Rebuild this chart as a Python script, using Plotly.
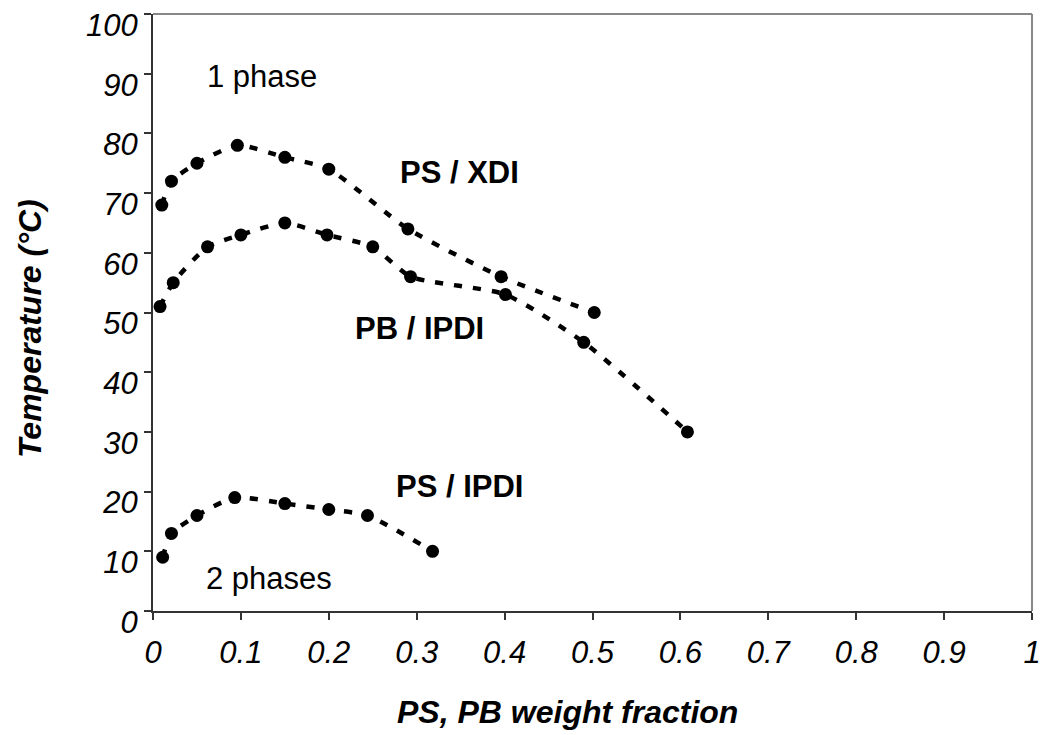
import plotly.graph_objects as go

ps_xdi_x = [0.010, 0.021, 0.050, 0.096, 0.150, 0.200, 0.290, 0.396, 0.502]
ps_xdi_y = [68, 72, 75, 78, 76, 74, 64, 56, 50]

pb_ipdi_x = [0.008, 0.023, 0.062, 0.100, 0.150, 0.198, 0.250, 0.293, 0.401, 0.490, 0.608]
pb_ipdi_y = [51, 55, 61, 63, 65, 63, 61, 56, 53, 45, 30]

ps_ipdi_x = [0.011, 0.021, 0.050, 0.093, 0.150, 0.200, 0.244, 0.318]
ps_ipdi_y = [9, 13, 16, 19, 18, 17, 16, 10]

x_ticks = [0, 0.1, 0.2, 0.3, 0.4, 0.5, 0.6, 0.7, 0.8, 0.9, 1]
x_tick_labels = ["0", "0.1", "0.2", "0.3", "0.4", "0.5", "0.6", "0.7", "0.8", "0.9", "1"]
y_ticks = [0, 10, 20, 30, 40, 50, 60, 70, 80, 90, 100]

labels = [
    ("1 phase", 0.124, 89.6, False),
    ("PS / XDI", 0.349, 73.4, True),
    ("PB / IPDI", 0.303, 47.4, True),
    ("PS / IPDI", 0.349, 20.8, True),
    ("2 phases", 0.132, 5.5, False),
]

FONT = "Liberation Sans, Arial, sans-serif"
W, H = 1051, 735
ML, MR, MT, MB = 153, 19, 14, 124

fig = go.Figure()
for xs, ys, name in [(ps_xdi_x, ps_xdi_y, "PS / XDI"),
                     (pb_ipdi_x, pb_ipdi_y, "PB / IPDI"),
                     (ps_ipdi_x, ps_ipdi_y, "PS / IPDI")]:
    fig.add_trace(go.Scatter(
        x=xs, y=ys, name=name, mode="lines+markers",
        line=dict(color="black", width=4.5, dash="8px,11px", shape="spline", smoothing=0.6),
        marker=dict(color="black", size=13, symbol="circle"),
        showlegend=False, cliponaxis=False,
    ))

for text, x, y, bold in labels:
    fig.add_annotation(
        x=x, y=y, text=f"<b>{text}</b>" if bold else text, showarrow=False,
        font=dict(family=FONT, size=31, color="black"),
        xanchor="center", yanchor="middle",
    )

pw, ph = W - ML - MR, H - MT - MB
fig.add_annotation(
    xref="paper", yref="paper", x=(567 - ML) / pw, y=(H - MB - 712) / ph,
    text="<b><i>PS, PB weight fraction</i></b>", showarrow=False,
    font=dict(family=FONT, size=32, color="black"), xanchor="center", yanchor="middle",
)
fig.add_annotation(
    xref="paper", yref="paper", x=(30 - ML) / pw, y=(H - MB - 329) / ph,
    text="<b><i>Temperature (°C)</i></b>", showarrow=False, textangle=-90,
    font=dict(family=FONT, size=32, color="black"), xanchor="center", yanchor="middle",
)

fig.add_shape(type="line", xref="paper", yref="paper", x0=0, x1=1, y0=1, y1=1,
              line=dict(color="#888888", width=2))
fig.add_shape(type="line", xref="paper", yref="paper", x0=1, x1=1, y0=0, y1=1,
              line=dict(color="#888888", width=2))

fig.update_layout(
    width=W, height=H,
    margin=dict(l=ML, r=MR, t=MT, b=MB),
    plot_bgcolor="white", paper_bgcolor="white",
    font=dict(family=FONT, color="black"),
    xaxis=dict(
        range=[0, 1], tickvals=x_ticks, ticktext=[f"<i>{t}</i>" for t in x_tick_labels],
        showgrid=False, zeroline=False, showline=True, linecolor="#333333", linewidth=2,
        ticks="outside", ticklen=7, tickwidth=2, tickcolor="#333333",
        tickfont=dict(family=FONT, size=31, color="black"), automargin=False,
        ticklabelstandoff=6, ticklabeloverflow="allow",
    ),
    yaxis=dict(
        range=[0, 100], tickvals=y_ticks, ticktext=[f"<i>{t}</i>" for t in y_ticks],
        showgrid=False, zeroline=False, showline=True, linecolor="#333333", linewidth=2,
        ticks="outside", ticklen=7, tickwidth=2, tickcolor="#333333",
        tickfont=dict(family=FONT, size=31, color="black"), automargin=False,
        ticklabeloverflow="allow", ticklabelshift=11,
    ),
)

fig.write_html("out.html", config={"displayModeBar": False},
               post_script="document.body.style.margin='0';document.body.style.overflow='hidden';")
